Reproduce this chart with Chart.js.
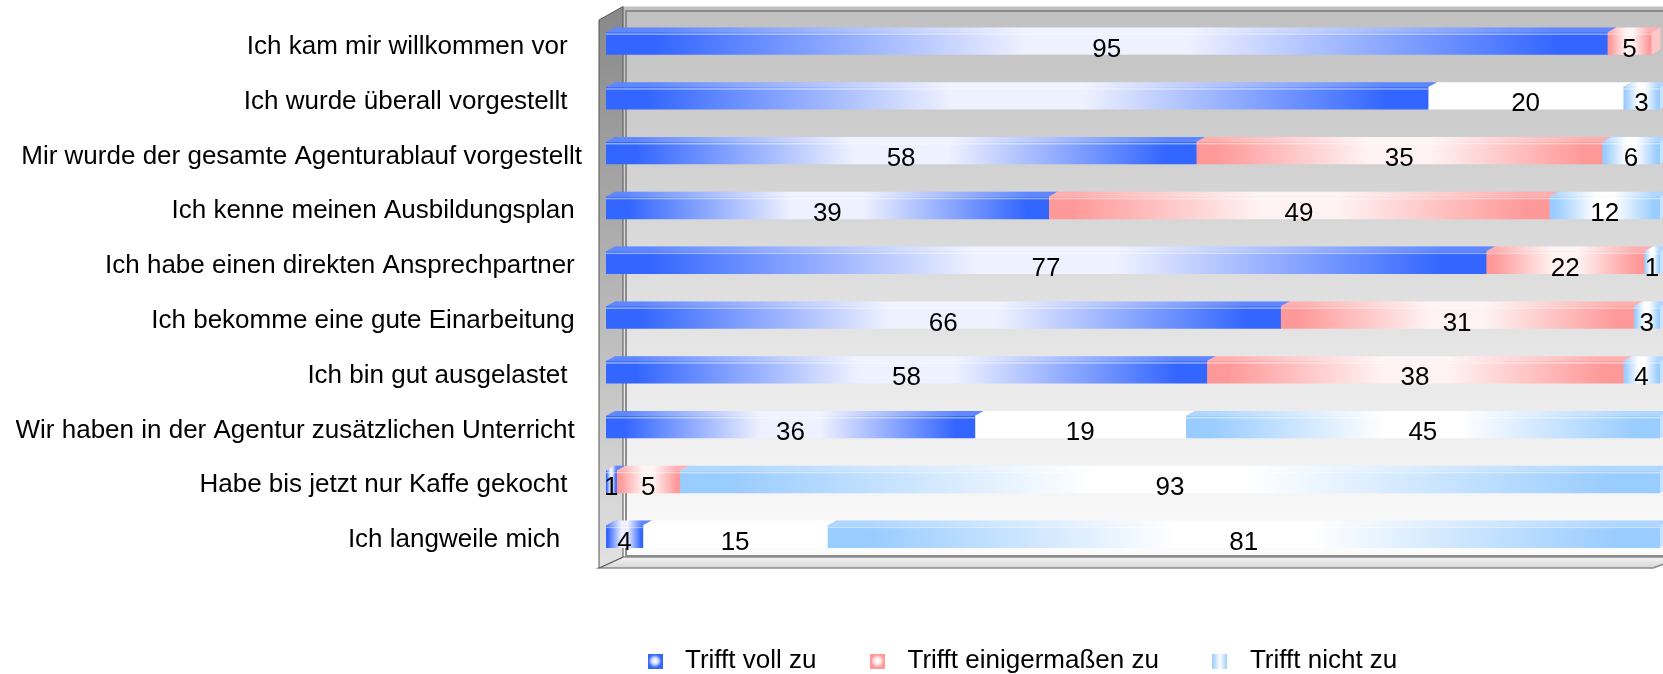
<!DOCTYPE html>
<html lang="de">
<head>
  <meta charset="UTF-8">
  <title>Einarbeitung in der Agentur</title>
  <script src="https://cdn.jsdelivr.net/npm/chart.js"></script>
  <style>
    html, body { margin: 0; padding: 0; background: #fff; }
    #wrap { width: 1663px; height: 674px; position: relative; }
  </style>
</head>
<body>
  <div id="wrap"><canvas id="chart"></canvas></div>

  <script>
    // Kategorien (trailing spaces as in the original labels)
    const categories = [
      'Ich kam mir willkommen vor  ',
      'Ich wurde überall vorgestellt  ',
      'Mir wurde der gesamte Agenturablauf vorgestellt',
      'Ich kenne meinen Ausbildungsplan ',
      'Ich habe einen direkten Ansprechpartner ',
      'Ich bekomme eine gute Einarbeitung ',
      'Ich bin gut ausgelastet  ',
      'Wir haben in der Agentur zusätzlichen Unterricht ',
      'Habe bis jetzt nur Kaffe gekocht  ',
      'Ich langweile mich   '
    ];
    const seriesNames = ['Trifft voll zu', 'Trifft einigermaßen zu', 'Trifft nicht zu'];

    // bar lengths in %
    const trifftVollZu        = [95, 78, 56, 42, 83.5, 64, 57, 35, 1, 3.5];
    const trifftEinigermassen = [4.2, 18.5, 38.5, 47.5, 15, 33.5, 39.5, 20, 6, 17.5];
    const trifftNichtZu       = [0, 3.5, 5.5, 10.5, 1.5, 2.5, 3.5, 45, 93, 79];

    // numbers printed on the bars
    const labelsVoll   = ['95', '', '58', '39', '77', '66', '58', '36', '1', '4'];
    const labelsEinig  = ['5', '20', '35', '49', '22', '31', '38', '19', '5', '15'];
    const labelsNicht  = ['', '3', '6', '12', '1', '3', '4', '45', '93', '81'];

    const series = [trifftVollZu, trifftEinigermassen, trifftNichtZu];
    const printed = [labelsVoll, labelsEinig, labelsNicht];

    // styling
    const FONT = "'Liberation Sans', Arial, sans-serif";
    const edge = ['#3366ff', '#ff9999', '#99ccff'];
    const mid  = ['#eef1ff', '#fff2f2', '#ffffff'];
    const whiteMiddleRows = [1, 7, 9];   // rows where the middle segment is drawn white
    const DX = 9, DY = 5;                // 3d depth of the bars
    const LEGEND_PAD = 44;

    Chart.defaults.font.family = FONT;

    function barFill(d) {
      return (c) => {
        const chart = c.chart;
        if (c.type !== 'data' || !chart.chartArea || !chart.scales.x) return edge[d];
        const i = c.dataIndex;
        if (d === 1 && whiteMiddleRows.includes(i)) return '#ffffff';
        let start = 0;
        for (let k = 0; k < d; k++) start += series[k][i];
        const sx = chart.scales.x;
        const x0 = sx.getPixelForValue(start);
        const x1 = sx.getPixelForValue(start + series[d][i]);
        if (x1 - x0 < 2) return edge[d];
        const g = chart.ctx.createLinearGradient(x0, 0, x1, 0);
        g.addColorStop(0, edge[d]);
        g.addColorStop(0.05, edge[d]);
        g.addColorStop(0.42, mid[d]);
        g.addColorStop(0.58, mid[d]);
        g.addColorStop(0.95, edge[d]);
        g.addColorStop(1, edge[d]);
        return g;
      };
    }

    function makeSwatch(d) {
      const c = document.createElement('canvas');
      c.width = 15; c.height = 15;
      const g = c.getContext('2d');
      if (d === 2) {
        const lg = g.createLinearGradient(0, 0, 15, 0);
        lg.addColorStop(0, edge[2]);
        lg.addColorStop(0.5, '#ffffff');
        lg.addColorStop(1, edge[2]);
        g.fillStyle = lg;
        g.fillRect(0, 0, 15, 15);
      } else {
        g.fillStyle = edge[d];
        g.fillRect(0, 0, 15, 15);
        const rg = g.createRadialGradient(7.5, 7.5, 0, 7.5, 7.5, 6.5);
        rg.addColorStop(0, 'rgba(255,255,255,1)');
        rg.addColorStop(0.5, 'rgba(255,255,255,0.8)');
        rg.addColorStop(1, 'rgba(255,255,255,0)');
        g.fillStyle = rg;
        g.fillRect(1, 1, 13, 13);
      }
      return c;
    }
    const swatches = [0, 1, 2].map(makeSwatch);

    // back wall, side wall and floor
    const wallsPlugin = {
      id: 'walls',
      beforeDatasetsDraw(chart) {
        const { ctx, chartArea: a, width } = chart;
        const wl = a.left - 7, wr = a.left + 17;
        const top = a.top - 9.5, fb = a.bottom - 7, ff = a.bottom + 4;
        ctx.save();
        let g = ctx.createLinearGradient(0, top, 0, fb);
        g.addColorStop(0, '#c0c0c0');
        g.addColorStop(1, '#fcfcfc');
        ctx.fillStyle = g;
        ctx.fillRect(wr, top, width - wr, fb - top);

        // floor
        g = ctx.createLinearGradient(0, fb, 0, ff);
        g.addColorStop(0, '#f4f4f4');
        g.addColorStop(1, '#d6d6d6');
        ctx.fillStyle = g;
        ctx.beginPath();
        ctx.moveTo(wl, ff); ctx.lineTo(wr, fb); ctx.lineTo(width + 20, fb); ctx.lineTo(width - 10, ff);
        ctx.closePath();
        ctx.fill();
        ctx.strokeStyle = '#8c8c8c';
        ctx.lineWidth = 1.5;
        ctx.stroke();

        // left wall
        g = ctx.createLinearGradient(0, top, 0, ff);
        g.addColorStop(0, '#888888');
        g.addColorStop(1, '#e2e2e2');
        ctx.fillStyle = g;
        ctx.beginPath();
        ctx.moveTo(wl, top + 13.5); ctx.lineTo(wr, top); ctx.lineTo(wr, fb); ctx.lineTo(wl, ff);
        ctx.closePath();
        ctx.fill();
        ctx.strokeStyle = '#555555';
        ctx.lineWidth = 1;
        ctx.stroke();

        // inner frame of the back wall
        ctx.strokeStyle = '#8c8c8c';
        ctx.lineWidth = 2;
        ctx.beginPath();
        ctx.moveTo(width, top + 4.5); ctx.lineTo(wr + 3, top + 4.5); ctx.lineTo(wr + 3, fb - 1); ctx.lineTo(width, fb - 1);
        ctx.stroke();
        ctx.restore();
      }
    };

    // top faces, side faces and a small highlight
    const facesPlugin = {
      id: 'faces',
      afterDatasetsDraw(chart) {
        const ctx = chart.ctx;
        ctx.save();
        chart.data.datasets.forEach((ds, d) => {
          chart.getDatasetMeta(d).data.forEach((bar, i) => {
            if (!ds.data[i]) return;
            const x0 = Math.min(bar.base, bar.x), x1 = Math.max(bar.base, bar.x);
            const t = bar.y - bar.height / 2, b = bar.y + bar.height / 2;
            const white = d === 1 && whiteMiddleRows.includes(i);
            // top face
            ctx.beginPath();
            ctx.moveTo(x0, t); ctx.lineTo(x0 + DX, t - DY); ctx.lineTo(x1 + DX, t - DY); ctx.lineTo(x1, t);
            ctx.closePath();
            ctx.fillStyle = bar.options.backgroundColor;
            ctx.fill();
            if (!white) {
              ctx.fillStyle = 'rgba(255,255,255,0.22)';
              ctx.fill();
              ctx.fillStyle = 'rgba(255,255,255,0.45)';
              ctx.fillRect(x0, t + 1, x1 - x0, 1.5);
            }
            // side face on the last segment of a row
            let last = true;
            for (let k = d + 1; k < series.length; k++) if (series[k][i] > 0) last = false;
            if (last) {
              ctx.beginPath();
              ctx.moveTo(x1, t); ctx.lineTo(x1 + DX, t - DY); ctx.lineTo(x1 + DX, b - DY); ctx.lineTo(x1, b);
              ctx.closePath();
              ctx.fillStyle = white ? '#ffffff' : edge[d];
              ctx.fill();
              ctx.fillStyle = 'rgba(255,255,255,0.45)';
              ctx.fill();
            }
          });
        });
        ctx.restore();
      }
    };

    const valueLabelsPlugin = {
      id: 'valueLabels',
      afterDatasetsDraw(chart) {
        const ctx = chart.ctx;
        ctx.save();
        ctx.font = '26px ' + FONT;
        ctx.fillStyle = '#000';
        ctx.textAlign = 'center';
        ctx.textBaseline = 'middle';
        chart.data.datasets.forEach((ds, d) => {
          chart.getDatasetMeta(d).data.forEach((bar, i) => {
            const txt = printed[d][i];
            if (!txt) return;
            ctx.fillText(txt, (bar.base + bar.x) / 2, bar.y + 6);
          });
        });
        ctx.restore();
      }
    };

    // place the legend like the original (left part of the bottom)
    const legendPlacePlugin = {
      id: 'legendPlace',
      afterLayout(chart) {
        const lg = chart.legend;
        if (!lg) return;
        lg.left = 638 - LEGEND_PAD;
        lg.right = 1663;
        lg.top = 661 - 13 - LEGEND_PAD;
        lg.bottom = 674;
      }
    };

    new Chart(document.getElementById('chart'), {
      type: 'bar',
      data: {
        labels: categories,
        datasets: series.map((vals, d) => ({
          label: seriesNames[d],
          data: vals,
          backgroundColor: barFill(d),
          borderWidth: 0,
          barThickness: 22
        }))
      },
      options: {
        indexAxis: 'y',
        responsive: true,
        maintainAspectRatio: false,
        animation: false,
        // legend box is 26 + pad + 10 high; chart area must end at 564
        layout: { padding: { left: 16, right: 3, top: 16, bottom: 110 - (36 + LEGEND_PAD) } },
        scales: {
          x: { stacked: true, min: 0, max: 100, display: false },
          y: {
            stacked: true,
            grid: { display: false },
            border: { display: false },
            ticks: {
              color: '#000',
              font: { size: 26 },
              padding: 16,
              labelOffset: 3.5,
              autoSkip: false
            },
            afterFit(scale) {
              scale.width = 590;
              scale.paddingTop = 0;
              scale.paddingBottom = 0;
            }
          }
        },
        plugins: {
          tooltip: { enabled: false },
          legend: {
            position: 'bottom',
            align: 'start',
            labels: {
              color: '#000',
              font: { size: 26 },
              usePointStyle: true,
              pointStyleWidth: 34,
              padding: LEGEND_PAD,
              generateLabels: (chart) => chart.data.datasets.map((ds, i) => ({
                text: ds.label,
                pointStyle: swatches[i],
                datasetIndex: i,
                fillStyle: '#fff',
                strokeStyle: '#fff',
                lineWidth: 0,
                hidden: false
              }))
            }
          }
        }
      },
      plugins: [wallsPlugin, facesPlugin, valueLabelsPlugin, legendPlacePlugin]
    });
  </script>
</body>
</html>
